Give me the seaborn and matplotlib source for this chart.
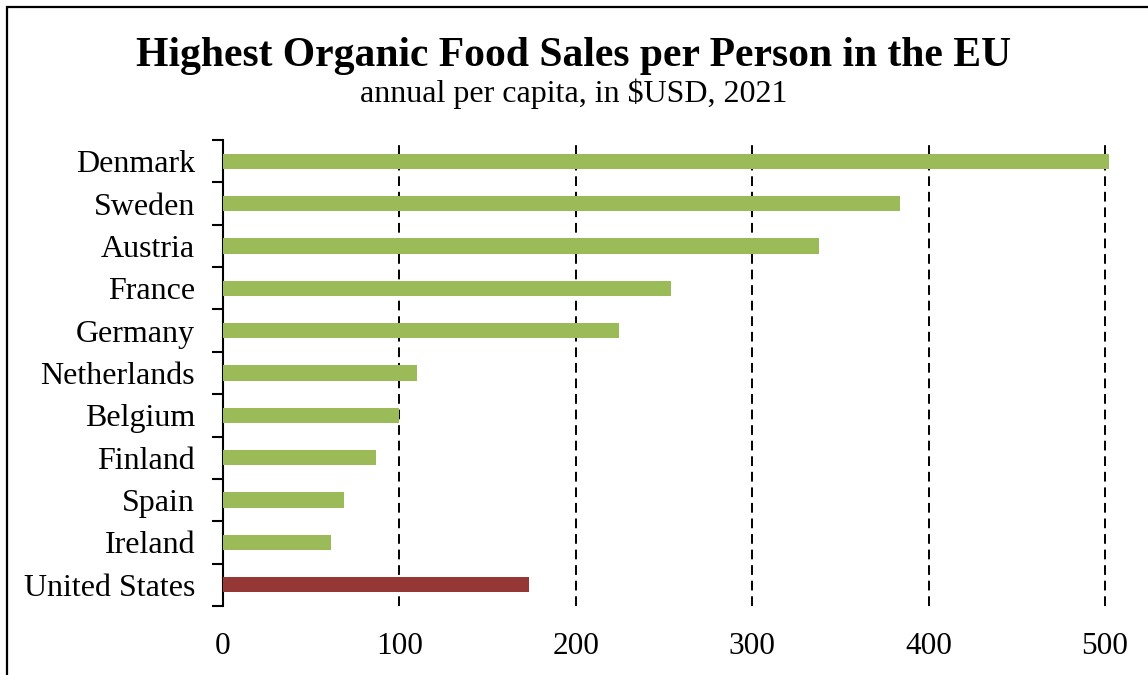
import matplotlib
matplotlib.use("Agg")
import matplotlib.pyplot as plt
import seaborn as sns
import pandas as pd
from matplotlib.lines import Line2D

countries = ["Denmark", "Sweden", "Austria", "France", "Germany", "Netherlands",
             "Belgium", "Finland", "Spain", "Ireland", "United States"]
sales = [502, 384, 338, 254, 224.5, 110, 100, 87, 68.5, 61, 173.5]
group = ["EU"] * 10 + ["US"]
xticks = [0, 100, 200, 300, 400, 500]

df = pd.DataFrame({"country": countries, "sales": sales, "group": group})

sns.set_theme(style="white")
plt.rcParams["font.family"] = ["Liberation Serif", "DejaVu Serif"]
for k in ["text.color", "axes.labelcolor", "xtick.color", "ytick.color"]:
    plt.rcParams[k] = "black"

fig = plt.figure(figsize=(11.48, 6.75), dpi=100)
ax = fig.add_axes([223 / 1148, 1 - 606 / 675, (1105 - 223) / 1148, (606 - 140) / 675])

sns.barplot(data=df, x="sales", y="country", hue="group",
            palette={"EU": "#9BBB59", "US": "#953735"},
            orient="h", width=0.36, dodge=False, legend=False, ax=ax,
            edgecolor="none", saturation=1)
for p in ax.patches:
    p.set_clip_on(False)
    p.set_zorder(3)

ax.set_xlim(0, 500)
ax.set_ylim(10.5, -0.5)
ax.set_xlabel("")
ax.set_ylabel("")

for v in xticks[1:]:
    ax.axvline(v, color="black", lw=1.4, linestyle=(0, (5, 3)), zorder=1, clip_on=False)

ax.set_xticks(xticks)
ax.set_xticklabels([str(t) for t in xticks], fontsize=22.5)
ax.tick_params(axis="x", length=0, pad=19)

ax.set_yticks(range(len(countries)))
ax.set_yticklabels(countries, fontsize=23)
ax.set_yticks([i - 0.5 for i in range(len(countries) + 1)], minor=True)
ax.tick_params(axis="y", which="major", length=0, pad=20)
ax.tick_params(axis="y", which="minor", length=8, width=1.5, color="black", left=True)

for s in ["top", "right", "bottom"]:
    ax.spines[s].set_visible(False)
ax.spines["left"].set_color("black")
ax.spines["left"].set_linewidth(1.5)
ax.grid(False)

fig.text(0.5, 1 - 56 / 675, "Highest Organic Food Sales per Person in the EU",
         ha="center", va="center", fontsize=30, fontweight="bold")
fig.text(0.5, 1 - 94 / 675, "annual per capita, in $USD, 2021",
         ha="center", va="center", fontsize=23)

x0 = 7 / 1148
ytop = 1 - 7 / 675
fig.add_artist(Line2D([x0, x0, 1.0], [0.0, ytop, ytop], color="black", lw=1.6,
                      transform=fig.transFigure, solid_joinstyle="miter"))

fig.savefig("out.png", dpi=100)
